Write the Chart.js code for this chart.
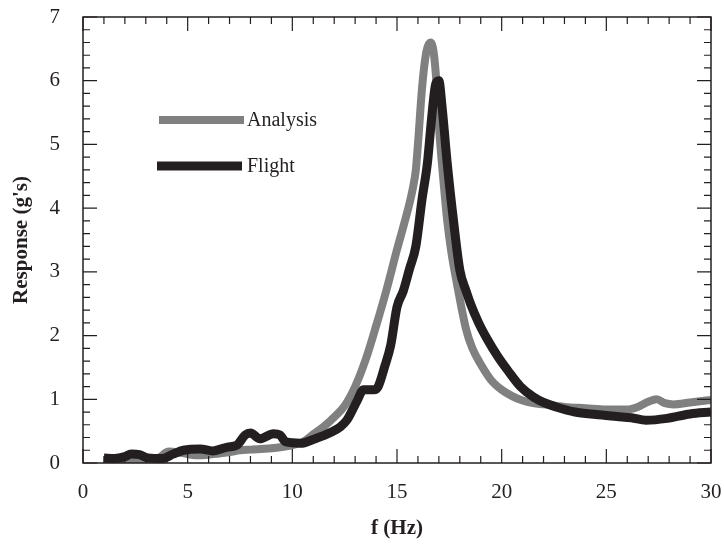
<!DOCTYPE html>
<html>
<head>
<meta charset="utf-8">
<script src="https://cdn.jsdelivr.net/npm/chart.js@4.4.0/dist/chart.umd.min.js"></script>
<style>
  html, body { margin: 0; padding: 0; background: #fff; }
  #wrap { width: 724px; height: 545px; }
</style>
</head>
<body>
<div id="wrap"><canvas id="chart" width="724" height="545"></canvas></div>
<script>
// ---- data ----
const analysisX = [1.0, 2.0, 3.0, 3.6, 4.1, 4.5, 5.0, 5.5, 6.0, 6.5, 7.0, 7.5, 8.0, 8.5, 9.0, 9.5, 10.0, 10.5, 11.0, 11.5, 12.0, 12.5, 13.0, 13.5, 14.0, 14.5, 15.0, 15.5, 15.75, 15.9, 16.0, 16.2, 16.4, 16.6, 16.75, 16.9, 17.0, 17.2, 17.4, 17.6, 17.9, 18.3, 18.6, 19.0, 19.5, 20.0, 20.5, 21.0, 21.5, 22.0, 23.0, 24.0, 25.0, 26.0, 26.5, 27.0, 27.4, 27.8, 28.2, 29.0, 30.0];
const analysisY = [0.05, 0.05, 0.06, 0.08, 0.18, 0.17, 0.14, 0.12, 0.13, 0.15, 0.17, 0.2, 0.21, 0.22, 0.23, 0.25, 0.28, 0.33, 0.45, 0.57, 0.72, 0.9, 1.2, 1.62, 2.15, 2.72, 3.35, 3.95, 4.3, 4.6, 5.0, 5.9, 6.45, 6.6, 6.45, 5.9, 5.3, 4.5, 3.8, 3.3, 2.75, 2.1, 1.8, 1.55, 1.3, 1.15, 1.05, 0.98, 0.94, 0.92, 0.88, 0.86, 0.84, 0.84, 0.88, 0.96, 1.0, 0.94, 0.92, 0.95, 0.99];

const flightX = [1.0, 1.5, 2.0, 2.3, 2.7, 3.1, 3.8, 4.3, 4.8, 5.6, 6.2, 6.9, 7.35, 7.75, 8.0, 8.45, 9.1, 9.4, 9.7, 10.4, 11.0, 11.9, 12.3, 12.6, 13.1, 13.4, 13.9, 14.1, 14.4, 14.7, 15.0, 15.3, 15.6, 15.9, 16.2, 16.45, 16.65, 16.85, 17.0, 17.15, 17.4, 17.7, 18.0, 18.3, 18.5, 18.9, 19.3, 19.8, 20.3, 20.9, 21.5, 22.0, 22.6, 23.5, 24.5, 25.5, 26.2, 26.9, 27.9, 29.0, 30.0];
const flightY = [0.08, 0.07, 0.1, 0.14, 0.13, 0.08, 0.07, 0.14, 0.2, 0.22, 0.19, 0.25, 0.28, 0.44, 0.47, 0.38, 0.46, 0.44, 0.33, 0.31, 0.37, 0.49, 0.57, 0.67, 0.98, 1.15, 1.15, 1.2, 1.5, 1.85, 2.45, 2.7, 3.05, 3.4, 4.15, 4.7, 5.4, 5.95, 6.0, 5.6, 4.7, 3.8, 3.03, 2.7, 2.51, 2.2, 1.95, 1.68, 1.45, 1.2, 1.04, 0.95, 0.88, 0.8, 0.76, 0.73, 0.71, 0.67, 0.70, 0.77, 0.80];

const xTicks = [0, 5, 10, 15, 20, 25, 30];
const yTicks = [0, 1, 2, 3, 4, 5, 6, 7];

const INK = '#231f20';
const FONT = 'Liberation Serif';

function toPoints(xs, ys) {
  return xs.map((x, i) => ({ x: x, y: ys[i] }));
}

// frame, inward ticks on all four sides, and the in-plot legend
const framePlugin = {
  id: 'frame',
  afterDraw(chart) {
    const { ctx, chartArea: a, scales } = chart;
    const xs = scales.x, ys = scales.y;
    ctx.save();
    ctx.strokeStyle = INK;
    ctx.lineWidth = 1.5;
    ctx.strokeRect(a.left, a.top, a.right - a.left, a.bottom - a.top);

    ctx.lineWidth = 1.2;
    ctx.beginPath();
    for (let v = 0; v <= 30; v++) {
      const len = v % 5 === 0 ? 14 : 7;
      const px = xs.getPixelForValue(v);
      ctx.moveTo(px, a.bottom); ctx.lineTo(px, a.bottom - len);
      ctx.moveTo(px, a.top); ctx.lineTo(px, a.top + len);
    }
    for (let k = 0; k <= 35; k++) {
      const len = k % 5 === 0 ? 14 : 7;
      const py = ys.getPixelForValue(k * 0.2);
      ctx.moveTo(a.left, py); ctx.lineTo(a.left + len, py);
      ctx.moveTo(a.right, py); ctx.lineTo(a.right - len, py);
    }
    ctx.stroke();

    // legend
    const rows = [
      { ds: chart.data.datasets[0], x0: 159, x1: 244, y: 120 },
      { ds: chart.data.datasets[1], x0: 157, x1: 242, y: 166 }
    ];
    ctx.font = '20px "' + FONT + '"';
    ctx.textBaseline = 'middle';
    ctx.textAlign = 'left';
    rows.forEach(r => {
      ctx.strokeStyle = r.ds.borderColor;
      ctx.lineWidth = r.ds.borderWidth;
      ctx.lineCap = 'butt';
      ctx.beginPath();
      ctx.moveTo(r.x0, r.y); ctx.lineTo(r.x1, r.y);
      ctx.stroke();
      ctx.fillStyle = INK;
      ctx.fillText(r.ds.label, 247, r.y + 1);
    });
    ctx.restore();
  }
};

new Chart(document.getElementById('chart'), {
  type: 'line',
  data: {
    datasets: [
      {
        label: 'Analysis',
        data: toPoints(analysisX, analysisY),
        borderColor: '#808080',
        borderWidth: 8,
        order: 2
      },
      {
        label: 'Flight',
        data: toPoints(flightX, flightY),
        borderColor: INK,
        borderWidth: 9,
        order: 1
      }
    ]
  },
  options: {
    responsive: false,
    animation: false,
    events: [],
    layout: { padding: { top: 17, right: 13, left: 0, bottom: 0 } },
    elements: {
      point: { radius: 0 },
      line: { tension: 0.25, cubicInterpolationMode: 'monotone', borderJoinStyle: 'round', borderCapStyle: 'butt' }
    },
    plugins: {
      legend: { display: false },
      tooltip: { enabled: false }
    },
    scales: {
      x: {
        type: 'linear',
        min: 0,
        max: 30,
        afterFit: scale => {
          scale.height = 82;
          scale.paddingLeft = 0;
          scale.paddingRight = 0;
        },
        afterBuildTicks: scale => { scale.ticks = xTicks.map(v => ({ value: v })); },
        grid: { display: false, drawTicks: false },
        border: { display: false },
        ticks: { padding: 17, color: INK, font: { family: FONT, size: 21 } },
        title: {
          display: true,
          text: 'f (Hz)',
          color: INK,
          padding: { top: 0, bottom: 4 },
          font: { family: FONT, size: 21, weight: 'bold' }
        }
      },
      y: {
        type: 'linear',
        min: 0,
        max: 7,
        afterFit: scale => {
          scale.width = 83;
          scale.paddingTop = 0;
          scale.paddingBottom = 0;
        },
        afterBuildTicks: scale => { scale.ticks = yTicks.map(v => ({ value: v })); },
        grid: { display: false, drawTicks: false },
        border: { display: false },
        ticks: { padding: 23, color: INK, font: { family: FONT, size: 21 } },
        title: {
          display: true,
          text: "Response (g's)",
          color: INK,
          padding: { top: 9, bottom: 0 },
          font: { family: FONT, size: 21, weight: 'bold' }
        }
      }
    }
  },
  plugins: [framePlugin]
});
</script>
</body>
</html>
